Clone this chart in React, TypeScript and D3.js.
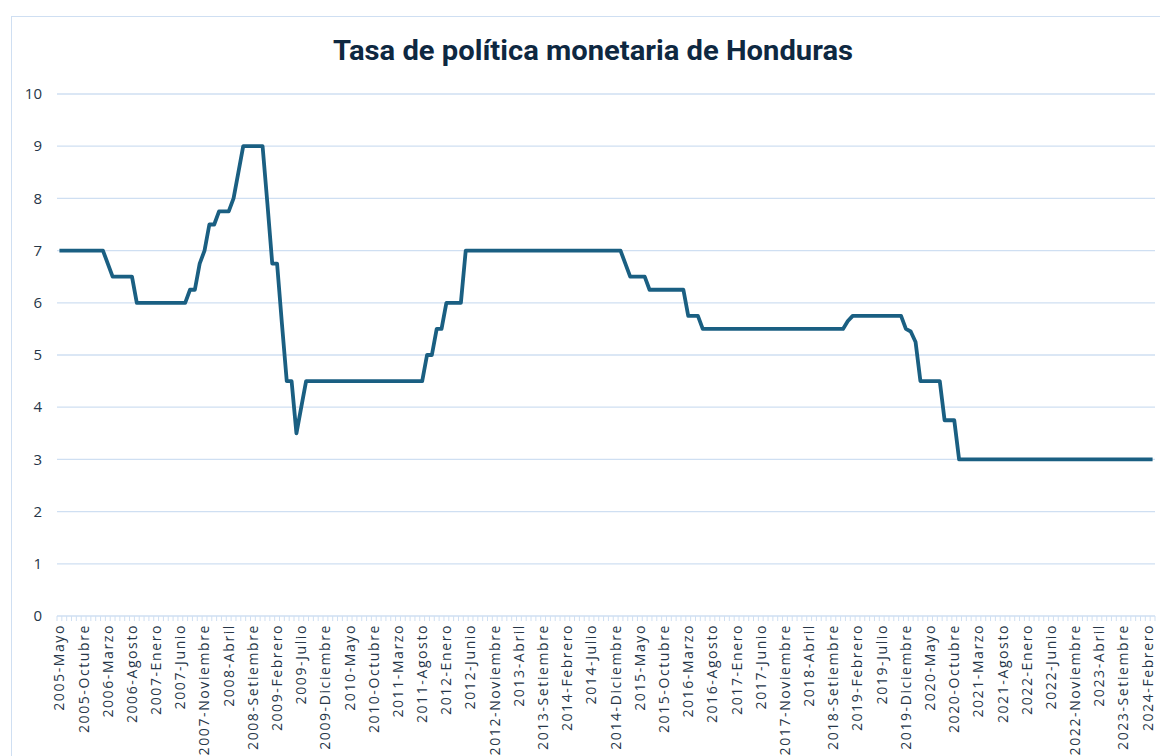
import React from 'react';
import * as d3 from 'd3';

const TITLE = 'Tasa de política monetaria de Honduras';
const MONTHS = ['Enero', 'Febrero', 'Marzo', 'Abril', 'Mayo', 'Junio', 'Julio', 'Agosto', 'Setiembre', 'Octubre', 'Noviembre', 'Diciembre'];
const START_YEAR = 2005;
const START_MONTH = 4; // Mayo

// Monthly policy rate, 2005-Mayo onwards
const RATES = [
  7, 7, 7, 7, 7, 7, 7, 7,
  7, 7, 6.75, 6.5, 6.5, 6.5, 6.5, 6.5, 6, 6, 6, 6,
  6, 6, 6, 6, 6, 6, 6, 6.25, 6.25, 6.75, 7, 7.5,
  7.5, 7.75, 7.75, 7.75, 8, 8.5, 9, 9, 9, 9, 9, 7.9,
  6.75, 6.75, 5.6, 4.5, 4.5, 3.5, 4, 4.5, 4.5, 4.5, 4.5, 4.5,
  4.5, 4.5, 4.5, 4.5, 4.5, 4.5, 4.5, 4.5, 4.5, 4.5, 4.5, 4.5,
  4.5, 4.5, 4.5, 4.5, 4.5, 4.5, 4.5, 4.5, 5, 5, 5.5, 5.5,
  6, 6, 6, 6, 7, 7, 7, 7, 7, 7, 7, 7,
  7, 7, 7, 7, 7, 7, 7, 7, 7, 7, 7, 7,
  7, 7, 7, 7, 7, 7, 7, 7, 7, 7, 7, 7,
  7, 6.75, 6.5, 6.5, 6.5, 6.5, 6.25, 6.25, 6.25, 6.25, 6.25, 6.25,
  6.25, 6.25, 5.75, 5.75, 5.75, 5.5, 5.5, 5.5, 5.5, 5.5, 5.5, 5.5,
  5.5, 5.5, 5.5, 5.5, 5.5, 5.5, 5.5, 5.5, 5.5, 5.5, 5.5, 5.5,
  5.5, 5.5, 5.5, 5.5, 5.5, 5.5, 5.5, 5.5, 5.5, 5.5, 5.5, 5.65,
  5.75, 5.75, 5.75, 5.75, 5.75, 5.75, 5.75, 5.75, 5.75, 5.75, 5.75, 5.5,
  5.45, 5.25, 4.5, 4.5, 4.5, 4.5, 4.5, 3.75, 3.75, 3.75, 3, 3,
  3, 3, 3, 3, 3, 3, 3, 3, 3, 3, 3, 3,
  3, 3, 3, 3, 3, 3, 3, 3, 3, 3, 3, 3,
  3, 3, 3, 3, 3, 3, 3, 3, 3, 3, 3, 3,
  3, 3, 3,
];

const CATEGORIES = RATES.map((_, i) => {
  const m = START_MONTH + i;
  return `${START_YEAR + Math.floor(m / 12)}-${MONTHS[m % 12]}`;
});
const LABEL_EVERY = 5;
const Y_TICKS = [0, 1, 2, 3, 4, 5, 6, 7, 8, 9, 10];

const W = 1160;
const H = 756;
const PLOT = { left: 57, right: 1155, top: 94, bottom: 616 };
const GRID = '#cfdff2';
const TEXT = '#263648';
const LINE = '#1a5f82';

export default function App() {
  const x = d3.scaleBand<number>()
    .domain(d3.range(RATES.length))
    .range([PLOT.left, PLOT.right])
    .paddingInner(0)
    .paddingOuter(0);
  const y = d3.scaleLinear().domain([0, 10]).range([PLOT.bottom, PLOT.top]);
  const bw = x.bandwidth();
  const cx = (i: number) => (x(i) as number) + bw / 2;

  const line = d3.line<number>()
    .x((_, i) => cx(i))
    .y((d) => y(d))
    .curve(d3.curveLinear);

  const boundaries = d3.range(RATES.length + 1).map((i) => PLOT.left + i * bw);

  return (
    <svg width={W} height={H} style={{ position: 'absolute', left: 0, top: 0, background: '#fff' }}>
      <rect x={11.5} y={16.5} width={W} height={H} fill="#fff" stroke={GRID} strokeWidth={1} />
      <text
        x={593}
        y={60}
        textAnchor="middle"
        fontFamily="Roboto, 'Noto Sans', sans-serif"
        fontWeight={700}
        fontSize={27}
        textLength={520}
        lengthAdjust="spacingAndGlyphs"
        fill="#0e2841"
      >
        {TITLE}
      </text>
      {Y_TICKS.map((t) => (
        <g key={t}>
          {t > 0 && (
            <line x1={PLOT.left} x2={PLOT.right} y1={y(t)} y2={y(t)} stroke={GRID} strokeWidth={1.3} />
          )}
          <text x={42} y={y(t)} dy="0.35em" textAnchor="end" fontFamily="'Open Sans', sans-serif" fontSize={15} fill={TEXT}>
            {t}
          </text>
        </g>
      ))}
      <line x1={PLOT.left} x2={PLOT.right} y1={PLOT.bottom} y2={PLOT.bottom} stroke={GRID} strokeWidth={1.3} />
      {boundaries.map((bx, i) => (
        <line key={i} x1={bx} x2={bx} y1={PLOT.bottom} y2={PLOT.bottom + 5} stroke={GRID} strokeWidth={1} />
      ))}
      {CATEGORIES.map((c, i) =>
        i % LABEL_EVERY === 0 ? (
          <text
            key={c}
            transform={`translate(${cx(i)},${PLOT.bottom + 8}) rotate(-90)`}
            textAnchor="end"
            dy="0.35em"
            fontFamily="'Open Sans', sans-serif"
            fontSize={14}
            letterSpacing={1.6}
            fill={TEXT}
          >
            {c}
          </text>
        ) : null
      )}
      <path d={line(RATES) || ''} fill="none" stroke={LINE} strokeWidth={3.8} strokeLinejoin="round" strokeLinecap="butt" />
    </svg>
  );
}
